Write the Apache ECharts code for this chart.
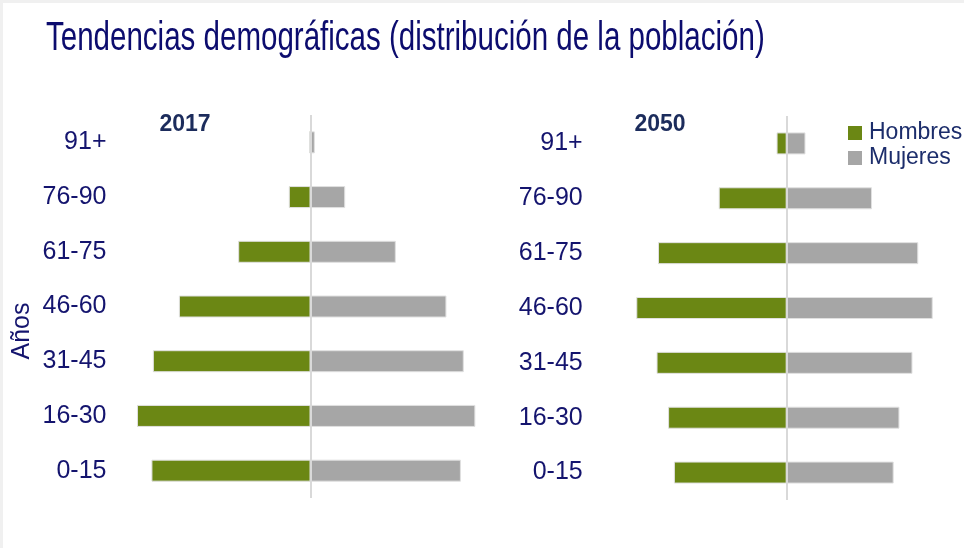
<!DOCTYPE html>
<html>
<head>
<meta charset="utf-8">
<script src="https://cdn.jsdelivr.net/npm/echarts@6/dist/echarts.min.js"></script>
<style>
  html, body { margin: 0; padding: 0; background: #f0f0f0; }
  #chart { position: absolute; left: 3px; top: 3px; width: 961px; height: 545px; background: #fff; }
</style>
</head>
<body>
<div id="chart"></div>
<script>
// grupos de edad (de abajo hacia arriba)
var edades = ["0-15", "16-30", "31-45", "46-60", "61-75", "76-90", "91+"];
// % de la población
var hombres2017 = [11.0, 12.0, 10.9, 9.1, 5.0, 1.5, 0.1];
var mujeres2017 = [10.4, 11.4, 10.6, 9.4, 5.9, 2.4, 0.3];
var hombres2050 = [7.8, 8.2, 9.0, 10.4, 8.9, 4.7, 0.7];
var mujeres2050 = [7.4, 7.8, 8.7, 10.1, 9.1, 5.9, 1.3];
var anios = ["2017", "2050"];

var VERDE = "#6b8714";
var GRIS = "#a6a6a6";
var AZUL = "#14146e";
var FONT = "Liberation Sans, Arial, sans-serif";

var myChart = echarts.init(document.getElementById("chart"));

function neg(arr) {
  return arr.map(function (v) { return -v; });
}

function barras(idx, hombres, mujeres) {
  var comun = {
    type: "bar",
    stack: "total" + idx,
    xAxisIndex: idx,
    yAxisIndex: idx,
    barWidth: 22,
    silent: true
  };
  return [
    Object.assign({}, comun, {
      name: "Hombres",
      itemStyle: { color: VERDE, borderColor: "#e0e0e0", borderWidth: 1 },
      data: neg(hombres),
      markLine: {
        silent: true,
        symbol: ["none", "none"],
        label: { show: false },
        lineStyle: { color: "#d9d9d9", width: 2, type: "solid" },
        data: [{ xAxis: 0 }]
      }
    }),
    Object.assign({}, comun, {
      name: "Mujeres",
      itemStyle: { color: GRIS, borderColor: "#e0e0e0", borderWidth: 1 },
      data: mujeres
    })
  ];
}

function ejeY(idx) {
  return {
    type: "category",
    gridIndex: idx,
    data: edades,
    axisLine: { show: false },
    axisTick: { show: false },
    axisLabel: { margin: 16, fontSize: 25, color: AZUL, fontFamily: FONT }
  };
}

function ejeX(idx, max) {
  return {
    type: "value",
    gridIndex: idx,
    min: -13,
    max: max,
    show: false,
    splitLine: { show: false }
  };
}

myChart.setOption({
  animation: false,
  backgroundColor: "#fff",
  grid: [
    { left: 119.5, top: 112, width: 376, height: 383 },
    { left: 595.7, top: 113, width: 361.5, height: 384 }
  ],
  xAxis: [ejeX(0, 13), ejeX(1, 12)],
  yAxis: [ejeY(0), ejeY(1)],
  legend: {
    orient: "vertical",
    left: 845,
    top: 118.5,
    padding: 0,
    itemWidth: 14,
    itemHeight: 14,
    itemGap: 2,
    icon: "rect",
    itemStyle: { borderWidth: 0 },
    textStyle: { fontSize: 23, lineHeight: 23, color: "#1c2d6b", fontFamily: FONT, padding: [0, 0, 0, 2] },
    data: ["Hombres", "Mujeres"]
  },
  graphic: [
    {
      type: "text",
      x: 43,
      y: 35.5,
      scaleX: 0.738,
      style: {
        text: "Tendencias demográficas (distribución de la población)",
        fontSize: 40,
        fontFamily: FONT,
        fill: "#0c0c6e",
        verticalAlign: "middle"
      }
    },
    {
      type: "text",
      x: 19,
      y: 328,
      rotation: Math.PI / 2,
      style: {
        text: "Años",
        fontSize: 25,
        fontFamily: FONT,
        fill: AZUL,
        align: "center",
        verticalAlign: "middle"
      }
    },
    {
      type: "text",
      x: 182,
      y: 122,
      style: {
        text: anios[0],
        fontSize: 23,
        fontWeight: "bold",
        fontFamily: FONT,
        fill: "#1c2c5c",
        align: "center",
        verticalAlign: "middle"
      }
    },
    {
      type: "text",
      x: 657,
      y: 122,
      style: {
        text: anios[1],
        fontSize: 23,
        fontWeight: "bold",
        fontFamily: FONT,
        fill: "#1c2c5c",
        align: "center",
        verticalAlign: "middle"
      }
    }
  ],
  series: barras(0, hombres2017, mujeres2017).concat(barras(1, hombres2050, mujeres2050))
});
</script>
</body>
</html>
